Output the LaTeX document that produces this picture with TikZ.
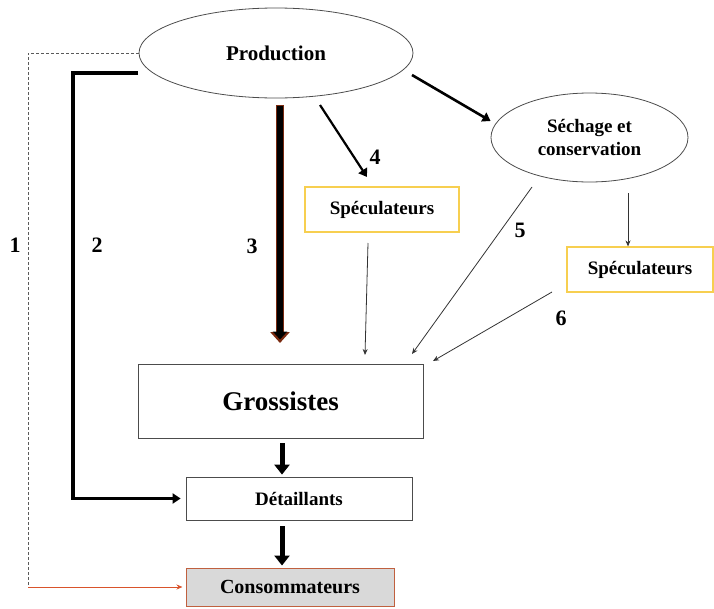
\documentclass[tikz,border=0pt]{standalone}
\usepackage{fontspec}
\setmainfont{Liberation Serif}
\usetikzlibrary{arrows.meta,shapes.geometric,calc}
\definecolor{specyellow}{HTML}{F7CF50}
\definecolor{consred}{HTML}{C0603F}
\definecolor{consfill}{HTML}{D9D9D9}
\definecolor{redline}{HTML}{D9532B}
\definecolor{darkrust}{HTML}{7A2A10}
\begin{document}
\begin{tikzpicture}[x=1pt,y=-1pt,
  ell/.style={ellipse,draw=black!70,line width=0.8pt,inner sep=0pt},
  boxnode/.style={rectangle,draw=black!70,line width=0.8pt,inner sep=0pt},
  specbox/.style={rectangle,draw=specyellow,line width=1.1pt,inner sep=0pt,minimum width=154pt,minimum height=45pt,font=\fontsize{19}{21}\selectfont\bfseries},
  num/.style={font=\fontsize{22}{24}\selectfont\bfseries},
  thinarr/.style={draw=black!80,line width=0.8pt,-{Stealth[length=6pt,width=5pt]}},
  medarr/.style={draw=black,line width=2.2pt,-{Triangle[length=8pt,width=10pt]}},
  bigarr/.style={draw=black,line width=5pt,-{Triangle[length=10pt,width=15pt]}}]
\useasboundingbox (0,0) rectangle (714,608);

% nodes
\node[ell,minimum width=274pt,minimum height=90pt,font=\fontsize{21}{23}\selectfont\bfseries] (prod) at (276,53) {Production};
\node[ell,minimum width=197pt,minimum height=89pt,font=\fontsize{19}{23}\selectfont\bfseries,align=center] (sech) at (589.5,137.5) {Séchage et\\conservation};
\node[specbox] (spec1) at (382,209.5) {Spéculateurs};
\node[specbox,minimum width=146pt] (spec2) at (640,269.5) {Spéculateurs};
\node[boxnode,minimum width=285pt,minimum height=74pt,font=\fontsize{27}{29}\selectfont\bfseries] (gros) at (280.5,401) {Grossistes};
\node[boxnode,minimum width=226pt,minimum height=43pt,font=\fontsize{19}{21}\selectfont\bfseries] (det) at (299,498.5) {Détaillants};
\node[rectangle,draw=consred,fill=consfill,line width=1pt,inner sep=0pt,minimum width=208pt,minimum height=38pt,font=\fontsize{20}{22}\selectfont\bfseries] (cons) at (290,587) {Consommateurs};

% labels
\node[num] (n1) at (15,245) {1};
\node[num] (n2) at (97,245) {2};
\node[num] (n3) at (252,246) {3};
\node[num] (n4) at (375,157) {4};
\node[num] (n5) at (520,230) {5};
\node[num] (n6) at (561,318) {6};

% coordinates for connector ends
\coordinate (c1a) at (28,53);
\coordinate (c1b) at (28,587);
\coordinate (c2s) at (138,73);
\coordinate (c2a) at (73,73);

% 1: dashed then red arrow
\draw[black!65,line width=1pt,dash pattern=on 3pt off 2pt] (prod.west) -- (c1a) -- (c1b);
\draw[redline,line width=1pt,-{Stealth[length=6pt,width=5pt]}] (c1b) -- ($(cons.west)+(-3,0)$);

% 2: thick elbow
\draw[black,line width=3.2pt,line join=miter,-{Triangle[length=8pt,width=10pt]}] (c2s) -- (c2a) |- ($(det.west)+(-5,0)$);

% 3: big vertical arrow with dark outline
\draw[darkrust,line width=8pt,-{Triangle[length=11pt,width=19pt]}] (280,105) -- (280,343);
\draw[black,line width=5.6pt,-{Triangle[length=8pt,width=14pt]}] (280,106) -- (280,339.5);

% 4
\draw[medarr] (320,105) -- (367,177);
% production -> sechage
\draw[medarr,line width=2.6pt] (412,75) -- (sech.west |- 0,121);

% sechage -> spec2
\draw[thinarr] (628,193) -- (spec2.north -| 628,0);
% spec1 -> grossistes
\draw[thinarr] (368,243) -- (365,355);
% 5
\draw[thinarr] (532,187) -- (412,354);
% 6
\draw[thinarr] (552,292) -- (433,361);

% grossistes -> detaillants -> consommateurs
\draw[bigarr] (282,443) -- ($(det.north -| 282,0)+(0,-2)$);
\draw[bigarr] (282,526) -- ($(cons.north -| 282,0)+(0,-2)$);
\end{tikzpicture}
\end{document}
